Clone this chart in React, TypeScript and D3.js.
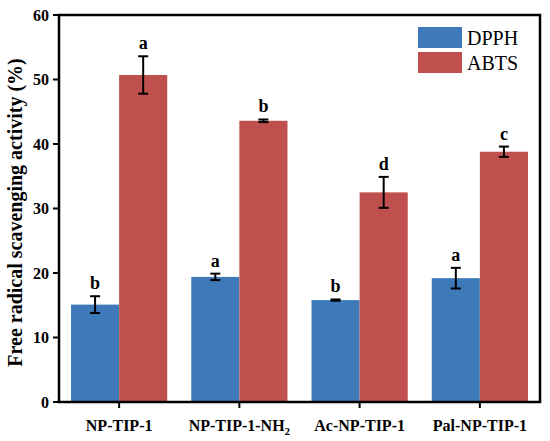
import React from "react";
import * as d3 from "d3";

const categories = ["NP-TIP-1", "NP-TIP-1-NH2", "Ac-NP-TIP-1", "Pal-NP-TIP-1"];
const seriesNames = ["DPPH", "ABTS"];
const dpphValues = [15.1, 19.4, 15.8, 19.2];
const dpphErrors = [1.3, 0.5, 0.1, 1.6];
const dpphLetters = ["b", "a", "b", "a"];
const abtsValues = [50.7, 43.6, 32.5, 38.8];
const abtsErrors = [2.9, 0.2, 2.4, 0.8];
const abtsLetters = ["a", "b", "d", "c"];
const yTicks = [0, 10, 20, 30, 40, 50, 60];

const colors = ["#3E7AB9", "#C0504D"];
const font = "'Liberation Serif', 'Times New Roman', serif";

const App: React.FC = () => {
  const width = 550;
  const height = 441;
  const margin = { top: 15, right: 10, bottom: 39, left: 59 };
  const innerW = width - margin.left - margin.right;
  const innerH = height - margin.top - margin.bottom;

  const x = d3
    .scaleBand<string>()
    .domain(categories)
    .range([0, innerW])
    .paddingInner(0.2)
    .paddingOuter(0.1);

  const xSub = d3
    .scaleBand<string>()
    .domain(seriesNames)
    .range([0, x.bandwidth()]);

  const y = d3.scaleLinear().domain([0, 60]).range([innerH, 0]);

  const series = [
    { name: "DPPH", values: dpphValues, errors: dpphErrors, letters: dpphLetters },
    { name: "ABTS", values: abtsValues, errors: abtsErrors, letters: abtsLetters },
  ];

  return (
    <svg
      width={width}
      height={height}
      style={{ display: "block", position: "absolute", left: 0, top: 0, background: "#fff" }}
      fontFamily={font}
    >
      <g transform={`translate(${margin.left},${margin.top})`}>
        {/* bars */}
        {series.map((s, si) =>
          categories.map((c, i) => {
            const bx = (x(c) ?? 0) + (xSub(s.name) ?? 0);
            const cx = bx + xSub.bandwidth() / 2;
            const v = s.values[i];
            const e = s.errors[i];
            const top = y(v + e);
            return (
              <g key={`${s.name}-${c}`}>
                <rect
                  x={bx}
                  y={y(v)}
                  width={xSub.bandwidth()}
                  height={innerH - y(v)}
                  fill={colors[si]}
                />
                <line x1={cx} x2={cx} y1={y(v + e)} y2={y(v - e)} stroke="#000" strokeWidth={2} />
                <line x1={cx - 5} x2={cx + 5} y1={y(v + e)} y2={y(v + e)} stroke="#000" strokeWidth={2} />
                <line x1={cx - 5} x2={cx + 5} y1={y(v - e)} y2={y(v - e)} stroke="#000" strokeWidth={2} />
                <text
                  x={cx}
                  y={top - 7}
                  textAnchor="middle"
                  fontSize={18}
                  fontWeight="bold"
                >
                  {s.letters[i]}
                </text>
              </g>
            );
          })
        )}

        {/* frame */}
        <rect x={0} y={0} width={innerW} height={innerH} fill="none" stroke="#000" strokeWidth={2.5} />

        {/* y axis ticks */}
        {yTicks.map((t) => (
          <g key={t} transform={`translate(0,${y(t)})`}>
            <line x1={-6} x2={0} stroke="#000" strokeWidth={2} />
            <text x={-10} dy="0.35em" textAnchor="end" fontSize={16} fontWeight="bold">
              {t}
            </text>
          </g>
        ))}

        {/* x axis ticks */}
        {categories.map((c) => {
          const cx = (x(c) ?? 0) + x.bandwidth() / 2;
          const m = c.match(/^(.*)NH2$/);
          return (
            <g key={c} transform={`translate(${cx},${innerH})`}>
              <line y1={0} y2={6} stroke="#000" strokeWidth={2} />
              <text y={29} textAnchor="middle" fontSize={16} fontWeight="bold">
                {m ? (
                  <>
                    {m[1]}NH
                    <tspan fontSize={11} dy={4}>2</tspan>
                  </>
                ) : (
                  c
                )}
              </text>
            </g>
          );
        })}

        {/* legend */}
        {seriesNames.map((n, i) => (
          <g key={n} transform={`translate(${359},${12 + i * 25})`}>
            <rect width={44} height={21} fill={colors[i]} />
            <text x={49} y={18} fontSize={20}>
              {n}
            </text>
          </g>
        ))}
      </g>

      {/* y title */}
      <text
        transform={`translate(22,${margin.top + innerH / 2 + 4}) rotate(-90)`}
        textAnchor="middle"
        fontSize={20}
        fontWeight="bold"
      >
        Free radical scavenging activity (%)
      </text>
    </svg>
  );
};

export default App;
